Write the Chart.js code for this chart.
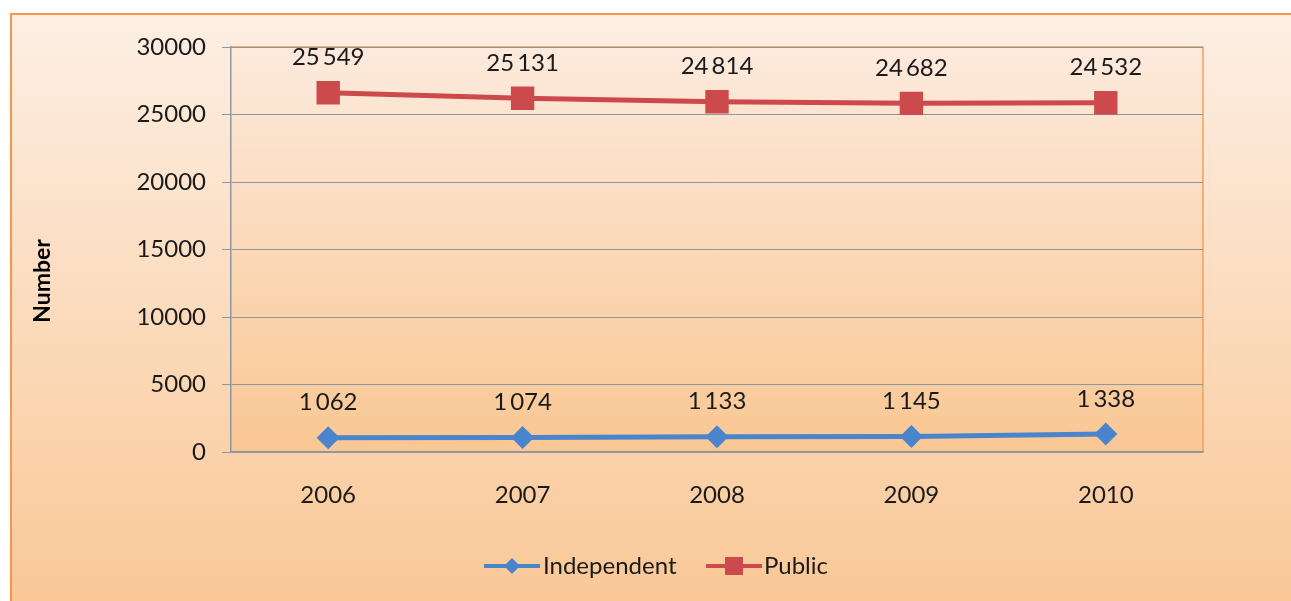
<!DOCTYPE html>
<html>
<head>
<meta charset="utf-8">
<script src="https://cdn.jsdelivr.net/npm/chart.js@4.4.1/dist/chart.umd.min.js"></script>
<style>
  html, body { margin: 0; padding: 0; background: #fff; }
  #wrap { width: 1291px; height: 601px; position: relative; }
</style>
</head>
<body>
<div id="wrap"><canvas id="chart" width="1291" height="601"></canvas></div>
<script>
// Data
const years = ['2006', '2007', '2008', '2009', '2010'];
const independent = [1062, 1074, 1133, 1145, 1338];
const publicSchools = [25549, 25131, 24814, 24682, 24532];
const yTicks = [0, 5000, 10000, 15000, 20000, 25000, 30000];

const FONT = 'Lato, "Open Sans", sans-serif';
const BLUE = '#4a84cc';
const RED = '#cc4a4c';

// Format with a thin space as thousands separator
function fmt(v) {
  const s = String(v);
  return s.length > 3 ? s.slice(0, -3) + '\u2009' + s.slice(-3) : s;
}

// Small legend icon: line with marker
function legendIcon(color, shape) {
  const c = document.createElement('canvas');
  c.width = 56; c.height = 20;
  const g = c.getContext('2d');
  g.strokeStyle = color; g.lineWidth = 4;
  g.beginPath(); g.moveTo(0, 10); g.lineTo(56, 10); g.stroke();
  g.fillStyle = color;
  g.beginPath();
  if (shape === 'diamond') {
    g.moveTo(28, 2); g.lineTo(36, 10); g.lineTo(28, 18); g.lineTo(20, 10);
  } else {
    g.rect(19, 1, 18, 18);
  }
  g.closePath(); g.fill();
  return c;
}

// Backgrounds, frame and axis title
const backgroundPlugin = {
  id: 'bg',
  beforeDraw(chart) {
    const { ctx, chartArea: a } = chart;
    ctx.save();
    ctx.fillStyle = '#fff';
    ctx.fillRect(0, 0, chart.width, chart.height);
    let g = ctx.createLinearGradient(0, 13, 0, 601);
    g.addColorStop(0, '#fdefe4');
    g.addColorStop(1, '#fac897');
    ctx.fillStyle = g;
    ctx.fillRect(10, 13, chart.width - 10, chart.height - 13);
    ctx.strokeStyle = '#f79646';
    ctx.lineWidth = 2;
    ctx.beginPath();
    ctx.moveTo(11, chart.height); ctx.lineTo(11, 14); ctx.lineTo(chart.width, 14);
    ctx.stroke();
    g = ctx.createLinearGradient(0, a.top, 0, a.bottom);
    g.addColorStop(0, '#fdeadd');
    g.addColorStop(1, '#f9c793');
    ctx.fillStyle = g;
    ctx.fillRect(a.left, a.top, a.right - a.left, a.bottom - a.top);
    ctx.strokeStyle = '#f2a05a';
    ctx.lineWidth = 1.5;
    ctx.beginPath();
    ctx.moveTo(a.left, a.top); ctx.lineTo(a.right, a.top); ctx.lineTo(a.right, a.bottom);
    ctx.stroke();
    // y axis title
    ctx.translate(43, 281);
    ctx.rotate(-Math.PI / 2);
    ctx.font = 'bold 23px ' + FONT;
    ctx.fillStyle = '#000';
    ctx.textAlign = 'center';
    ctx.textBaseline = 'middle';
    ctx.fillText('Number', 0, 0);
    ctx.restore();
  }
};

// Value labels above each point
const labelPlugin = {
  id: 'valueLabels',
  afterDatasetsDraw(chart) {
    const { ctx } = chart;
    ctx.save();
    ctx.font = '24px ' + FONT;
    ctx.fillStyle = '#1a1a1a';
    ctx.textAlign = 'center';
    ctx.textBaseline = 'middle';
    chart.data.datasets.forEach((ds, i) => {
      chart.getDatasetMeta(i).data.forEach((pt, j) => {
        ctx.fillText(fmt(ds.data[j]), pt.x, pt.y - 35);
      });
    });
    ctx.restore();
  }
};

// Legend drawn at the bottom
const legendPlugin = {
  id: 'bottomLegend',
  afterDraw(chart) {
    const { ctx } = chart;
    const y = 566;
    ctx.save();
    ctx.font = '24px ' + FONT;
    ctx.fillStyle = '#1a1a1a';
    ctx.textBaseline = 'middle';
    ctx.drawImage(legendIcon(BLUE, 'diamond'), 484, y - 10);
    ctx.fillText('Independent', 543, y);
    ctx.drawImage(legendIcon(RED, 'square'), 706, y - 10);
    ctx.fillText('Public', 764, y);
    ctx.restore();
  }
};

new Chart(document.getElementById('chart'), {
  type: 'line',
  data: {
    labels: years,
    datasets: [
      {
        label: 'Independent',
        data: independent,
        borderColor: BLUE,
        backgroundColor: BLUE,
        borderWidth: 5,
        pointStyle: 'rectRot',
        pointRadius: 8,
        pointHoverRadius: 8,
        fill: false,
        tension: 0
      },
      {
        label: 'Public',
        data: publicSchools,
        borderColor: RED,
        backgroundColor: RED,
        borderWidth: 5,
        pointStyle: 'rect',
        pointRadius: 13,
        pointHoverRadius: 13,
        fill: false,
        tension: 0
      }
    ]
  },
  options: {
    responsive: false,
    animation: false,
    layout: { padding: { left: 0, top: 47, right: 88, bottom: 0 } },
    plugins: {
      legend: { display: false },
      tooltip: { enabled: false }
    },
    scales: {
      x: {
        offset: true,
        afterFit(scale) { scale.height = 149; },
        grid: { display: false, drawTicks: false },
        border: { display: true, color: '#8d97a0', width: 1.5 },
        ticks: { padding: 29, color: '#1a1a1a', font: { family: FONT, size: 24 } }
      },
      y: {
        stacked: true,
        min: 0,
        max: 30000,
        afterFit(scale) { scale.width = 231; },
        afterBuildTicks(scale) { scale.ticks = yTicks.map(v => ({ value: v })); },
        grid: { color: '#8d97a0', lineWidth: 1, tickLength: 9 },
        border: { display: true, color: '#8d97a0', width: 1.5 },
        ticks: {
          padding: 16,
          color: '#1a1a1a',
          font: { family: FONT, size: 24 },
          callback: v => String(v)
        }
      }
    }
  },
  plugins: [backgroundPlugin, labelPlugin, legendPlugin]
});
</script>
</body>
</html>
